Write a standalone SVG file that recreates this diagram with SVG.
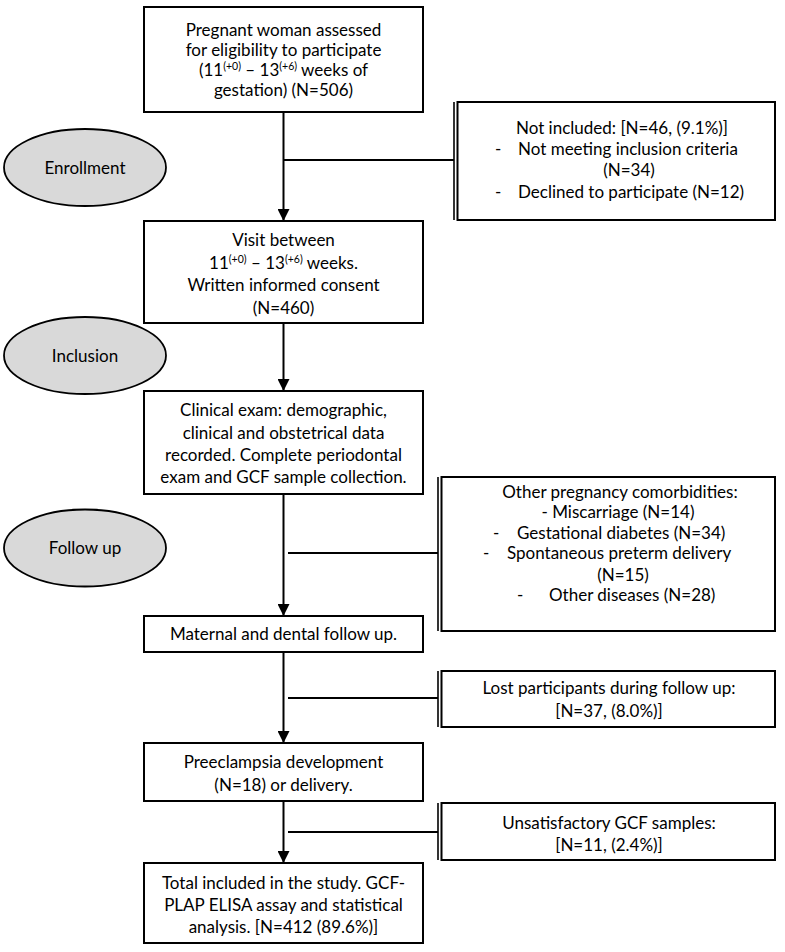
<svg xmlns="http://www.w3.org/2000/svg" width="785" height="952" viewBox="0 0 785 952">
<style>
  .box { fill: #ffffff; stroke: #000000; stroke-width: 2; }
  .dbl { fill: none; stroke: #000000; stroke-width: 1.6; }
  .ell { fill: #d9d9d9; stroke: #000000; stroke-width: 1.8; }
  .con { fill: none; stroke: #000000; stroke-width: 2; }
  text { font-family: Lato, "Liberation Sans", sans-serif; font-size: 17px; fill: #000000; }
  .c { text-anchor: middle; }
  .sup { font-size: 10.5px; }
</style>
<defs>
  <marker id="arr" viewBox="0 0 10 10" markerUnits="userSpaceOnUse" markerWidth="12" markerHeight="12" refX="10" refY="5" orient="auto">
    <path d="M0,0 L10,5 L0,10 z" fill="#000000"/>
  </marker>
</defs>
<rect width="785" height="952" fill="#ffffff"/>

<g id="connectors">
  <line class="con" x1="283.5" y1="112" x2="283.5" y2="221" marker-end="url(#arr)"/>
  <line class="con" x1="283.5" y1="160" x2="454" y2="160"/>
  <line class="con" x1="283.5" y1="323" x2="283.5" y2="391" marker-end="url(#arr)"/>
  <line class="con" x1="283.5" y1="494" x2="283.5" y2="616" marker-end="url(#arr)"/>
  <line class="con" x1="288" y1="553" x2="438" y2="553"/>
  <line class="con" x1="283.5" y1="652" x2="283.5" y2="743" marker-end="url(#arr)"/>
  <line class="con" x1="288" y1="698" x2="438" y2="698"/>
  <line class="con" x1="283.5" y1="801" x2="283.5" y2="863" marker-end="url(#arr)"/>
  <line class="con" x1="288" y1="832" x2="438" y2="832"/>
</g>

<g id="assessed">
  <rect class="box" x="144" y="7" width="279" height="105"/>
  <text class="c" x="283.5" y="36">Pregnant woman assessed</text>
  <text class="c" x="283.5" y="56">for eligibility to participate</text>
  <text class="c" x="283.5" y="76">(11<tspan class="sup" dy="-6">(+0)</tspan><tspan dy="6"> – 13</tspan><tspan class="sup" dy="-6">(+6)</tspan><tspan dy="6"> weeks of</tspan></text>
  <text class="c" x="283.5" y="96">gestation) (N=506)</text>
</g>

<g id="not-included">
  <line class="dbl" x1="454" y1="102" x2="454" y2="220"/>
  <rect class="box" x="457.5" y="102" width="317.5" height="118"/>
  <text class="c" x="622" y="134">Not included: [N=46, (9.1%)]</text>
  <text x="495" y="155">-</text>
  <text x="518" y="155">Not meeting inclusion criteria</text>
  <text class="c" x="629" y="176">(N=34)</text>
  <text x="495" y="198">-</text>
  <text x="518" y="198">Declined to participate (N=12)</text>
</g>

<g id="enrollment">
  <ellipse class="ell" cx="85" cy="167.5" rx="81" ry="38.5"/>
  <text class="c" x="85" y="174">Enrollment</text>
</g>

<g id="visit">
  <rect class="box" x="144" y="221" width="279" height="102"/>
  <text class="c" x="283.5" y="246">Visit between</text>
  <text class="c" x="283.5" y="268.5">11<tspan class="sup" dy="-6">(+0)</tspan><tspan dy="6"> – 13</tspan><tspan class="sup" dy="-6">(+6)</tspan><tspan dy="6"> weeks.</tspan></text>
  <text class="c" x="283.5" y="291">Written informed consent</text>
  <text class="c" x="283.5" y="313.5">(N=460)</text>
</g>

<g id="inclusion">
  <ellipse class="ell" cx="85" cy="355.5" rx="81" ry="38.5"/>
  <text class="c" x="85" y="362">Inclusion</text>
</g>

<g id="clinical-exam">
  <rect class="box" x="144" y="391" width="279" height="103"/>
  <text class="c" x="283.5" y="416">Clinical exam: demographic,</text>
  <text class="c" x="283.5" y="439">clinical and obstetrical data</text>
  <text class="c" x="283.5" y="461">recorded. Complete periodontal</text>
  <text class="c" x="283.5" y="483">exam and GCF sample collection.</text>
</g>

<g id="follow-up">
  <ellipse class="ell" cx="85" cy="548" rx="81" ry="38.5"/>
  <text class="c" x="85" y="554">Follow up</text>
</g>

<g id="comorbidities">
  <line class="dbl" x1="438" y1="477" x2="438" y2="631"/>
  <rect class="box" x="441.5" y="477" width="333.5" height="154"/>
  <text class="c" x="620" y="498">Other pregnancy comorbidities:</text>
  <text class="c" x="618" y="518">- Miscarriage (N=14)</text>
  <text x="493" y="539">-</text>
  <text x="517" y="539">Gestational diabetes (N=34)</text>
  <text x="483" y="559">-</text>
  <text x="507" y="559">Spontaneous preterm delivery</text>
  <text class="c" x="623" y="581">(N=15)</text>
  <text x="517" y="601">-</text>
  <text x="549" y="601">Other diseases (N=28)</text>
</g>

<g id="maternal">
  <rect class="box" x="144" y="616" width="279" height="36"/>
  <text class="c" x="283.5" y="640">Maternal and dental follow up.</text>
</g>

<g id="lost">
  <line class="dbl" x1="438" y1="671" x2="438" y2="727"/>
  <rect class="box" x="441.5" y="671" width="333.5" height="56"/>
  <text class="c" x="609" y="694">Lost participants during follow up:</text>
  <text class="c" x="609" y="717">[N=37, (8.0%)]</text>
</g>

<g id="preeclampsia">
  <rect class="box" x="144" y="743" width="279" height="58"/>
  <text class="c" x="283.5" y="768">Preeclampsia development</text>
  <text class="c" x="283.5" y="791">(N=18) or delivery.</text>
</g>

<g id="unsatisfactory">
  <line class="dbl" x1="438" y1="803" x2="438" y2="860"/>
  <rect class="box" x="441.5" y="803" width="333.5" height="57"/>
  <text class="c" x="609" y="829">Unsatisfactory GCF samples:</text>
  <text class="c" x="609" y="851">[N=11, (2.4%)]</text>
</g>

<g id="total">
  <rect class="box" x="144" y="863" width="279" height="80"/>
  <text class="c" x="283.5" y="889">Total included in the study. GCF-</text>
  <text class="c" x="283.5" y="911">PLAP ELISA assay and statistical</text>
  <text class="c" x="283.5" y="933">analysis. [N=412 (89.6%)]</text>
</g>
</svg>
